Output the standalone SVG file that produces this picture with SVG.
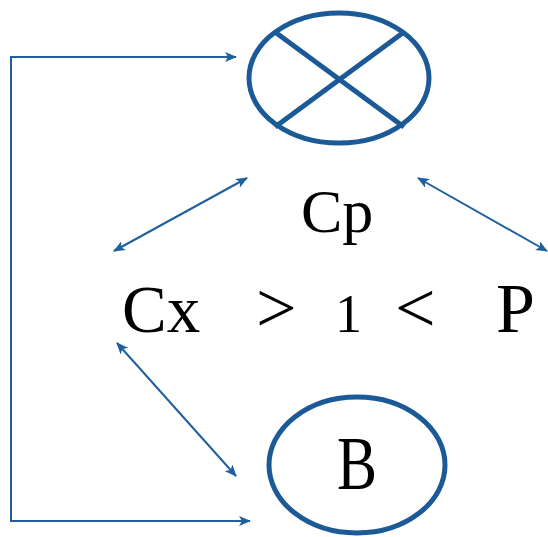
<svg xmlns="http://www.w3.org/2000/svg" width="548" height="537" viewBox="0 0 548 537">
  <style>
    .node { fill: #ffffff; stroke: #1b5a96; stroke-width: 5; }
    .cross { stroke: #1b5a96; stroke-width: 5; stroke-linecap: butt; }
    .conn { fill: none; stroke: #1f5f9e; stroke-width: 2; }
    .lbl { font-family: "Liberation Serif", "Times New Roman", serif; fill: #000000; }
  </style>
  <defs>
    <marker id="ah" viewBox="0 0 12 10" refX="11" refY="5" markerWidth="6" markerHeight="5" markerUnits="strokeWidth" orient="auto-start-reverse">
      <path d="M0,0 L12,5 L0,10 L3,5 Z" fill="#1f5f9e"/>
    </marker>
  </defs>
  <rect width="548" height="537" fill="#ffffff"/>

  <g id="connectors">
    <polyline class="conn" points="236,57 11,57 11,521 250,521" marker-start="url(#ah)" marker-end="url(#ah)"/>
    <line class="conn" x1="114" y1="251" x2="247" y2="178" marker-start="url(#ah)" marker-end="url(#ah)"/>
    <line class="conn" x1="418" y1="178" x2="547" y2="251" marker-start="url(#ah)" marker-end="url(#ah)"/>
    <line class="conn" x1="117" y1="343" x2="236" y2="476" marker-start="url(#ah)" marker-end="url(#ah)"/>
  </g>

  <g id="node-multiplier">
    <ellipse class="node" cx="339" cy="78" rx="90" ry="65"/>
    <line class="cross" x1="275" y1="32" x2="404" y2="127"/>
    <line class="cross" x1="404" y1="32" x2="275" y2="127"/>
  </g>

  <g id="node-B">
    <ellipse class="node" cx="357" cy="465" rx="88" ry="68"/>
    <text class="lbl" x="357" y="489" font-size="76" text-anchor="middle" textLength="40" lengthAdjust="spacingAndGlyphs">B</text>
  </g>

  <g id="label-Cp">
    <text class="lbl" x="301" y="232" font-size="62">Cp</text>
  </g>
  <g id="label-Cx">
    <text class="lbl" x="122" y="332" font-size="67">Cx</text>
  </g>
  <g id="label-relation">
    <text class="lbl" x="256" y="332" font-size="72">&gt;</text>
    <text class="lbl" x="335" y="332" font-size="54">1</text>
    <text class="lbl" x="395" y="332" font-size="72">&lt;</text>
  </g>
  <g id="label-P">
    <text class="lbl" x="496" y="332" font-size="70">P</text>
  </g>
</svg>
